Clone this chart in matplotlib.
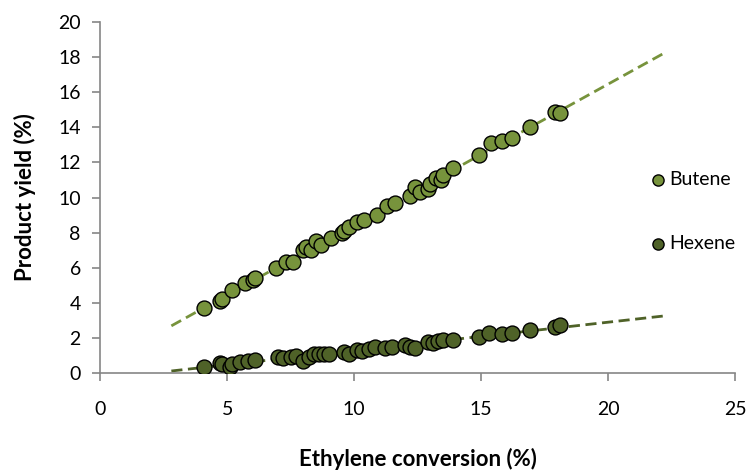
import matplotlib.pyplot as plt
import numpy as np

# product yields vs ethylene conversion, with linear trend lines

butene_x = [4.1, 4.7, 4.8, 5.2, 5.7, 6.0, 6.1, 6.9, 7.3, 7.6, 8.0, 8.1, 8.3, 8.5, 8.7,
            9.1, 9.5, 9.6, 9.8, 10.1, 10.4, 10.9, 11.3, 11.6, 12.2, 12.4, 12.6, 12.9,
            13.0, 13.2, 13.4, 13.5, 13.9, 14.9, 15.4, 15.8, 16.2, 16.9, 17.9, 18.1]
butene_y = [3.7, 4.1, 4.2, 4.7, 5.1, 5.3, 5.4, 6.0, 6.3, 6.3, 7.0, 7.2, 7.0, 7.5, 7.3,
            7.7, 8.0, 8.1, 8.3, 8.6, 8.7, 9.0, 9.5, 9.7, 10.1, 10.6, 10.3, 10.5,
            10.8, 11.1, 11.0, 11.3, 11.7, 12.4, 13.1, 13.2, 13.4, 14.0, 14.9, 14.8]

hexene_x = [4.1, 4.7, 4.8, 5.1, 5.2, 5.5, 5.8, 6.1, 7.0, 7.2, 7.5, 7.7, 8.0, 8.2, 8.4,
            8.6, 8.8, 9.0, 9.6, 9.8, 10.1, 10.3, 10.6, 10.8, 11.2, 11.5, 12.0, 12.2,
            12.4, 12.9, 13.1, 13.3, 13.5, 13.9, 14.9, 15.3, 15.8, 16.2, 16.9, 17.9, 18.1]
hexene_y = [0.35, 0.55, 0.5, 0.35, 0.5, 0.6, 0.7, 0.75, 0.9, 0.85, 0.9, 0.95, 0.65, 0.9, 1.05,
            1.1, 1.05, 1.1, 1.2, 1.1, 1.3, 1.25, 1.35, 1.5, 1.4, 1.45, 1.6, 1.5,
            1.4, 1.75, 1.7, 1.8, 1.9, 1.9, 2.05, 2.25, 2.2, 2.3, 2.45, 2.6, 2.75]

trend_range = [2.8, 22.2]  # excel trendline incl. forecast

butene_color = '#77933c'
hexene_color = '#4f6228'
axis_color = '#868686'

plt.rcParams['font.family'] = ['Lato', 'DejaVu Sans']

fig = plt.figure(figsize=(7.48, 4.72), dpi=100)
ax = fig.add_axes([0.134, 0.21, 0.849, 0.743])

xs = np.array(trend_range)
for x, y, c in [(butene_x, butene_y, butene_color), (hexene_x, hexene_y, hexene_color)]:
    k, b = np.polyfit(x, y, 1)
    ax.plot(xs, k * xs + b, color=c, lw=2, dashes=(4, 2), zorder=1)

ax.scatter(butene_x, butene_y, s=115, color=butene_color, edgecolor='black', linewidth=1, label='Butene', zorder=3)
ax.scatter(hexene_x, hexene_y, s=115, color=hexene_color, edgecolor='black', linewidth=1, label='Hexene', zorder=3)

ax.set_xlim(0, 25)
ax.set_ylim(0, 20)
ax.set_xticks(range(0, 26, 5))
ax.set_yticks(range(0, 21, 2))

for s in ['top', 'right']:
    ax.spines[s].set_visible(False)
for s in ['left', 'bottom']:
    ax.spines[s].set_color(axis_color)
    ax.spines[s].set_linewidth(1.2)
ax.tick_params(colors=axis_color, labelcolor='black', labelsize=14, length=6, width=1.2)
ax.tick_params(axis='x', pad=14)
ax.tick_params(axis='y', pad=8)

ax.set_xlabel('Ethylene conversion (%)', fontsize=16, fontweight='bold', labelpad=22)
ax.set_ylabel('Product yield (%)', fontsize=16, fontweight='bold', labelpad=16)

ax.legend(loc='center left', bbox_to_anchor=(0.85, 0.46), frameon=False, fontsize=14,
          handlelength=0.8, handletextpad=0.2, labelspacing=2.4, markerscale=0.75, borderpad=0)

fig.savefig('out.png', dpi=100)
